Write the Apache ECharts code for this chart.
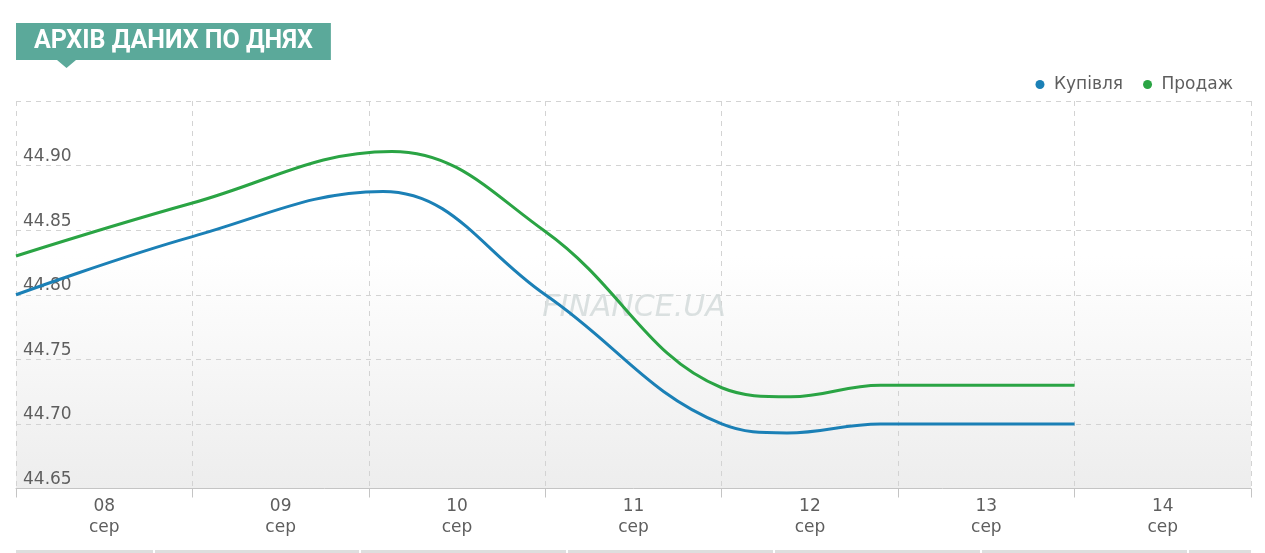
<!DOCTYPE html>
<html><head><meta charset="utf-8">
<script src="https://cdn.jsdelivr.net/npm/echarts@6/dist/echarts.min.js"></script>
<style>html,body{margin:0;padding:0;background:#fff}#c{width:1265px;height:553px}</style>
</head><body><div id="c"></div>
<script>
// ---- data ----
const days = ['08', '09', '10', '11', '12', '13', '14'];
const monthLabel = 'сер';
const yMin = 44.65, yMax = 44.95, yStep = 0.05;
const seriesNames = ['Купівля', 'Продаж'];
// positions in days from the first gridline (08 сер) and values
const buyDayPos  = [0, 1, 2.08, 3, 4, 4.37, 4.9, 6];
const buyValues  = [44.80, 44.845, 44.88, 44.80, 44.70, 44.693, 44.70, 44.70];
const sellDayPos = [0, 1, 2.13, 3, 4, 4.39, 4.9, 6];
const sellValues = [44.83, 44.871, 44.911, 44.849, 44.728, 44.721, 44.73, 44.73];

const pairs = (xs, ys) => xs.map((x, i) => [x, ys[i]]);
const FONT = 'DejaVu Sans';
const TXT = '#5e5e5e';
const GRIDC = '#d3d3d3';
const SMOOTH = 0.4;

const chart = echarts.init(document.getElementById('c'), null, {renderer: 'canvas'});
chart.setOption({
  animation: false,
  title: {
    text: 'АРХІВ ДАНИХ ПО ДНЯХ',
    left: 16, top: 23,
    backgroundColor: '#5ba99a',
    padding: [6, 18, 6, 18],
    textStyle: {color: '#ffffff', fontFamily: 'Roboto', fontWeight: 'bold', fontSize: 25, lineHeight: 25}
  },
  legend: {
    data: seriesNames,
    right: 27, top: 71,
    icon: 'circle', itemWidth: 18, itemHeight: 9, itemGap: 20,
    textStyle: {color: TXT, fontSize: 17, fontFamily: FONT}
  },
  grid: {
    left: 16, right: 14, top: 101, bottom: 64.5,
    show: true, borderWidth: 0,
    backgroundColor: {type: 'linear', x: 0, y: 0, x2: 0, y2: 1,
      colorStops: [{offset: 0, color: '#ffffff'}, {offset: 0.4, color: '#ffffff'}, {offset: 1, color: '#ededed'}]}
  },
  xAxis: [{
    type: 'category', data: days, boundaryGap: true,
    axisLine: {show: true, lineStyle: {color: '#c4c4c4', width: 1}},
    axisTick: {show: true, length: 9, lineStyle: {color: '#c4c4c4'}},
    axisLabel: {formatter: d => d + '\n' + monthLabel, color: TXT, fontFamily: FONT, fontSize: 17, lineHeight: 21, margin: 8},
    splitLine: {show: true, lineStyle: {color: GRIDC, type: [5, 5]}}
  }, {
    type: 'value', min: 0, max: days.length, show: false, splitLine: {show: false}
  }],
  yAxis: {
    type: 'value', min: yMin, max: yMax, interval: yStep,
    axisLine: {show: false}, axisTick: {show: false},
    axisLabel: {inside: true, margin: 7, verticalAlign: 'bottom', lineHeight: 18,
      showMaxLabel: false, color: TXT, fontFamily: FONT, fontSize: 17,
      formatter: v => v.toFixed(2)},
    splitLine: {show: true, lineStyle: {color: GRIDC, type: [5, 5]}}
  },
  series: [{
    name: seriesNames[0], type: 'line', xAxisIndex: 1,
    data: pairs(buyDayPos, buyValues), smooth: SMOOTH, showSymbol: false,
    lineStyle: {width: 3, color: '#1b80b6'}, itemStyle: {color: '#1b80b6'}, z: 3
  }, {
    name: seriesNames[1], type: 'line', xAxisIndex: 1,
    data: pairs(sellDayPos, sellValues), smooth: SMOOTH, showSymbol: false,
    lineStyle: {width: 3, color: '#2aa444'}, itemStyle: {color: '#2aa444'}, z: 3
  }],
  graphic: [
    {type: 'polygon', shape: {points: [[57, 60], [76, 60], [66.5, 68]]}, style: {fill: '#5ba99a'}, z: 10},
    {type: 'text', x: 634, y: 308, z: 1, silent: true,
      style: {text: 'FINANCE.UA', fontFamily: FONT, fontStyle: 'italic', fontSize: 30,
        fill: '#d3dbdb', align: 'center', verticalAlign: 'middle', opacity: 0.85}},
    {type: 'rect', shape: {x: 16, y: 550, width: 1235, height: 3}, style: {fill: '#dedede'}, z: 1},
    {type: 'rect', shape: {x: 153, y: 550, width: 2, height: 3}, style: {fill: '#ffffff'}, z: 2},
    {type: 'rect', shape: {x: 359, y: 550, width: 2, height: 3}, style: {fill: '#ffffff'}, z: 2},
    {type: 'rect', shape: {x: 566, y: 550, width: 2, height: 3}, style: {fill: '#ffffff'}, z: 2},
    {type: 'rect', shape: {x: 773, y: 550, width: 2, height: 3}, style: {fill: '#ffffff'}, z: 2},
    {type: 'rect', shape: {x: 980, y: 550, width: 2, height: 3}, style: {fill: '#ffffff'}, z: 2},
    {type: 'rect', shape: {x: 1187, y: 550, width: 2, height: 3}, style: {fill: '#ffffff'}, z: 2}
  ]
});
</script></body></html>
